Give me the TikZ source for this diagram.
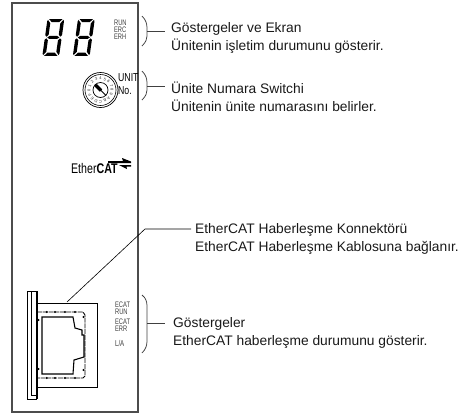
\documentclass[tikz,border=0pt]{standalone}
\usepackage{fontspec}
\setmainfont{Liberation Sans}
\tikzset{
  x=1pt,y=-1pt,
  panel/.style={draw=black!70,line width=1.5pt},
  thin line/.style={draw=black!75,line width=0.75pt},
  lab/.style={anchor=west,align=left,font=\fontsize{13.8}{18}\selectfont,inner sep=0pt,text=black!90},
  led/.style={inner sep=0pt,font=\fontsize{8}{7}\selectfont,xscale=0.72,align=left,text=black!75,anchor=north west},
  seg/.style={fill=black,draw=none}
}
\newcommand{\segs}{%
  \fill[seg] (1.5,0) -- (14.5,0) -- (11.5,2.8) -- (4.5,2.8) -- cycle;
  \fill[seg] (0.6,0.8) -- (3.2,3.6) -- (3.2,13.5) -- (1.5,15.3) -- (0,14) -- (0,2) -- cycle;
  \fill[seg] (15.4,0.8) -- (16,2) -- (16,14) -- (14.5,15.3) -- (12.8,13.5) -- (12.8,3.6) -- cycle;
  \fill[seg] (2.3,16) -- (4.3,14.7) -- (11.7,14.7) -- (13.7,16) -- (11.7,17.3) -- (4.3,17.3) -- cycle;
  \fill[seg] (1.5,16.7) -- (3.2,18.5) -- (3.2,28.4) -- (0.6,31.2) -- (0,30) -- (0,18) -- cycle;
  \fill[seg] (14.5,16.7) -- (16,18) -- (16,30) -- (15.4,31.2) -- (12.8,28.4) -- (12.8,18.5) -- cycle;
  \fill[seg] (4.5,29.2) -- (11.5,29.2) -- (14.5,32) -- (1.5,32) -- cycle;
}
\begin{document}
\begin{tikzpicture}
\useasboundingbox (0,0) rectangle (464,416);
% panel
\draw[panel] (12,3) rectangle (138,412);
% digits
\begin{scope}[shift={(47.5,19)},xslant=0.14,yscale=1.155,xscale=1.05]
\segs
\end{scope}
\begin{scope}[shift={(78,19)},xslant=0.14,yscale=1.155,xscale=1.05]
\segs
\end{scope}
% LED labels
\node[led] (leds) at (114,20) {RUN\\ERC\\ERH};
% dial
\node[circle,draw=black,line width=0.7pt,minimum size=35pt,inner sep=0pt] (dialo) at (100.5,90) {};
\node[circle,draw=black,line width=0.6pt,minimum size=31pt,inner sep=0pt] (dialm) at (100.5,90) {};
\node[circle,draw=black,line width=0.7pt,minimum size=15pt,inner sep=0pt] (diali) at (100.5,90) {};
\foreach \c [count=\i from 0] in {0,1,2,3,4,5,6,7,8,9,A,B,C,D,E,F}{
  \pgfmathsetmacro{\ang}{180-\i*22.5}
  \pgfmathsetmacro{\rot}{\ang-90}
  \node[inner sep=0pt,font=\fontsize{4}{4}\selectfont,rotate=\rot,text=black!85] at ({100.5+11.6*cos(\ang)},{90-11.6*sin(\ang)}) {\c};
}
\draw[black,line width=3.2pt] (95.5,85) -- (101,90.5);
\draw[black,line width=0.9pt] (95,84.5) -- (106,95.5);
\node[anchor=west,inner sep=0pt,font=\fontsize{11.5}{13}\selectfont,align=left,xscale=0.76] (unit) at (118,84) {UNIT\\No.};
% EtherCAT logo
\node[anchor=west,inner sep=0pt,font=\fontsize{14}{14}\selectfont,xscale=0.76] (logo) at (71,168) {Ether\textbf{CAT}};
\fill[black] (108,161) -- (123,161) -- (122,158) -- (131,161.5) -- (131,163) -- (108,163) -- cycle;
\fill[black] (119,165) -- (131,165) -- (131,166.5) -- (126.5,166.5) -- (127,169) -- cycle;
% connector
\draw[black,line width=1pt,fill=white] (37,303) rectangle (97,387);
\draw[black,line width=1pt,fill=white] (27,291) rectangle (36.5,399);
\draw[black,line width=0.8pt] (31,291) -- (31,395) -- (36.5,395);
\draw[black,line width=1.1pt] (37,291) -- (37,399);
\draw[black,line width=0.9pt,dash pattern=on 5pt off 0.8pt] (37,312) -- (83,312) -- (85,315) -- (85,376) -- (83,378) -- (37,378);
\draw[black,line width=1.1pt] (42,317) -- (73,317) -- (75,328) -- (82,330) -- (82,335) -- (84,335) -- (84,357) -- (74,360) -- (73,374) -- (42,374) -- cycle;
\foreach \px in {46.7,55,65,75}{
  \fill (\px,312) circle (1.1);
  \fill (\px,378) circle (1.1);
}
\fill (38.5,320) circle (1.1);
\fill (38.5,369) circle (1.1);
\fill (83.5,317) circle (1.1);
\fill (83.5,370) circle (1.1);
\coordinate (jack) at (67,302);
% brackets
\draw[thin line] (142,16) .. controls (146,20) and (147,24) .. (147,28) -- (147,36) .. controls (147,39) and (146,42) .. (142,46);
\coordinate (b1) at (147,31);
\coordinate (l1) at (165,31);
\draw[thin line] (b1) -- (l1);
\draw[thin line] (142,71) .. controls (146,75) and (147,79) .. (147,83) -- (147,90) .. controls (147,93) and (146,96) .. (142,100);
\coordinate (b2) at (147,86);
\coordinate (l2) at (165,86);
\draw[thin line] (b2) -- (l2);
\draw[thin line] (142,295) .. controls (146,298) and (147,302) .. (147,306) -- (147,341) .. controls (147,345) and (146,349) .. (142,353);
\coordinate (b3) at (147,323);
\coordinate (l3) at (165,323);
\draw[thin line] (b3) -- (l3);
\coordinate (k) at (145,229);
\coordinate (ke) at (191,229);
\draw[black,line width=0.6pt] (jack) -- (k) -- (ke);
% ELEDs
\node[led] (e1) at (115,302) {ECAT\\RUN};
\node[led] (e2) at (115,319) {ECAT\\ERR};
\node[led,font=\fontsize{8.5}{8.5}\selectfont,xscale=1] (e3) at (115,340.5) {L/A};
% labels
\node[lab] (t1) at (171,38) {Göstergeler ve Ekran\\Ünitenin işletim durumunu gösterir.};
\node[lab] (t2) at (171,97) {Ünite Numara Switchi\\Ünitenin ünite numarasını belirler.};
\node[lab] (t3) at (195,238.5) {EtherCAT Haberleşme Konnektörü\\EtherCAT Haberleşme Kablosuna bağlanır.};
\node[lab] (t4) at (173,332.5) {Göstergeler\\EtherCAT haberleşme durumunu gösterir.};
\end{tikzpicture}
\end{document}
